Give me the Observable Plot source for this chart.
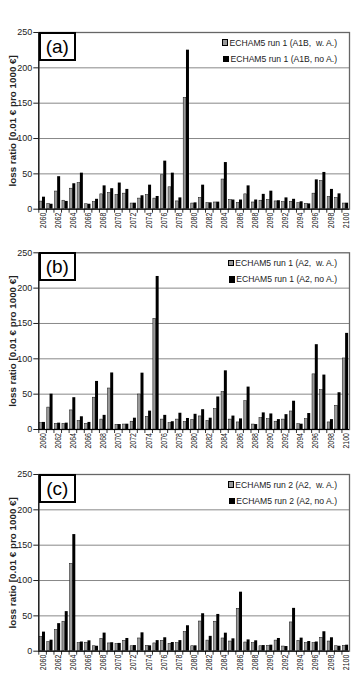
<!DOCTYPE html>
<html><head><meta charset="utf-8">
<script src="https://cdn.jsdelivr.net/npm/d3@7"></script>
<script src="https://cdn.jsdelivr.net/npm/@observablehq/plot@0.6"></script>
<style>
body{margin:0;background:#fff;font-family:"Liberation Sans",Arial,sans-serif;}
.panel{position:relative;width:354px;}
.panel svg{display:block;}
.tag{position:absolute;border:2px solid #000;box-sizing:border-box;background:#fff;font-size:19px;display:flex;align-items:center;justify-content:center;color:#000;line-height:1;}
.legend{position:absolute;font-size:8.6px;color:#222;}
.legend .row{display:flex;align-items:center;justify-content:flex-end;height:16.3px;white-space:pre;}
.sw{width:4.5px;height:4.5px;border:0.8px solid #000;margin-right:1.2px;}
</style></head><body><div id="chart"></div>
<script>
const years = [2060,2061,2062,2063,2064,2065,2066,2067,2068,2069,2070,2071,2072,2073,2074,2075,2076,2077,2078,2079,2080,2081,2082,2083,2084,2085,2086,2087,2088,2089,2090,2091,2092,2093,2094,2095,2096,2097,2098,2099,2100];
const labelYears = [2060,2062,2064,2066,2068,2070,2072,2074,2076,2078,2080,2082,2084,2086,2088,2090,2092,2094,2096,2098,2100];
const yTicks = [0,50,100,150,200,250];
const gridValues = [50,100,150,200];
const yLabel = "loss ratio [0.01 € pro 1000 €]";

const a_wA  = [10.8,7.5,25,12,29,37,7,10,21,23,20,22,8,15,20,15,48,31,11,157.5, 8,16,8.5,9.5,42,13,9,21,9.5,12,13,11,10,10.5,8.5,7.5,22,40,17.5,16,8];
const a_noA = [17,7,46,11,36,51,7,14,33,29,37,28,8.5,19,34,18,68,51,16,225, 9,34,9,10,66,13,13,33,13,21,25.5,12,16,14,10.5,7.5,41.5,52,28,21.7,8.5];
const b_wA  = [9,31,8,8,27,12,8,45,14,58,6.6,7,11,49.5,18,156.6,14,9,14,10.4, 13.5,18.5,12,29,53,14,10,40,7,16,14.6,11,14,25.5,7.5,14.6,78,55.6,10,33.5,100.5];
const b_noA = [10,50,9,9,45,18,10,68,20,80,7,7.5,16,79.7,26,216.5,20,11,23,15.6, 21.5,28,16,46,83,19,15,60,7,23.5,22,14,21,40,7.5,22.6,120,77,14,52,136];
const c_wA  = [20,13,30,41.7,123.6,11.4,12,7,17.5,11,10,14.7,7,18,7.6,11,14.7,10.4,11.4,27, 7,42,15,41.7,18,13.7,60,12.3,11.4,7,7.6,15,6.6,40.7,14.7,11.4,11.4,19,13.7,7,7.6];
const c_noA = [27,15.6,39,56,165,13,14.7,7,25.6,12,11,18,8,26,7.6,15,19,12.3,15,36, 7.6,53,21,52,25.5,17.5,83.5,16,14.7,8,8.5,18,6.6,60.6,18.5,13.7,13,27.5,19,7,8.5];

const legendA = ["ECHAM5 run 1 (A1B,  w. A.)", "ECHAM5 run 1 (A1B, no A.)"];
const legendB = ["ECHAM5 run 1 (A2,  w. A.)", "ECHAM5 run 1 (A2, no A.)"];
const legendC = ["ECHAM5 run 2 (A2,  w. A.)", "ECHAM5 run 2 (A2, no A.)"];
const tags = ["(a)", "(b)", "(c)"];

const GRAY = "#9a9a9a";
const panels = [
  {tag: tags[0], w: a_wA, n: a_noA, legend: legendA, height: 240, mt: 32, mb: 31.3},
  {tag: tags[1], w: b_wA, n: b_noA, legend: legendB, height: 225, mt: 12.3, mb: 36},
  {tag: tags[2], w: c_wA, n: c_noA, legend: legendC, height: 218, mt: 9, mb: 32.3}
];

const root = document.getElementById("chart");
const W = 354, mL = 38.3, mR = 5;
const step = (W - mL - mR) / years.length;

for (const p of panels) {
  const data = years.map((y, i) => ({year: y, w: p.w[i], n: p.n[i]}));
  const svg = Plot.plot({
    width: W, height: p.height,
    marginLeft: mL, marginRight: mR, marginTop: p.mt, marginBottom: p.mb,
    style: {fontFamily: "Liberation Sans, Arial, sans-serif", background: "#fff", color: "#222", fontSize: "9px"},
    x: {type: "band", domain: years, padding: 0, round: false, ticks: labelYears, tickRotate: -90, tickSize: 0, tickPadding: 3.5, tickFormat: d => String(d), label: null},
    y: {domain: [0, 250], ticks: yTicks, tickSize: 5, tickPadding: 1.5, label: null},
    marks: [
      Plot.ruleY(gridValues, {stroke: "#888", strokeWidth: 1}),
      Plot.frame({stroke: "#666", strokeWidth: 1.3}),
      Plot.barY(data, {x: "year", y: "w", fill: GRAY, stroke: "#111", strokeWidth: 0.5, insetLeft: 0.9, insetRight: step - 3.7}),
      Plot.barY(data, {x: "year", y: "n", fill: "#000", insetLeft: 3.7, insetRight: 0.9}),
      Plot.ruleY([0], {stroke: "#000", strokeWidth: 1}),
      Plot.ruleX([years[0]], {dx: -step / 2, stroke: "#000", strokeWidth: 1}),
      Plot.ruleX(years, {y1: 0, y2: 0, insetBottom: -4, dx: -step / 2, stroke: "#000", strokeWidth: 0.8}),
      Plot.text([yLabel], {frameAnchor: "left", textAnchor: "middle", rotate: -90, dx: -26, fontWeight: "bold", fontSize: 9.8, fill: "#222"})
    ]
  });
  svg.querySelectorAll('g[aria-label="x-axis tick label"] text').forEach(t => {
    const tr = t.getAttribute("transform") || "";
    t.setAttribute("transform", tr + " scale(0.76,1)");
    t.setAttribute("font-size", "9.2");
  });
  const div = document.createElement("div");
  div.className = "panel";
  div.style.height = p.height + "px";
  div.appendChild(svg);
  const tag = document.createElement("div");
  tag.className = "tag";
  tag.textContent = p.tag;
  Object.assign(tag.style, {left: (mL + 0.5) + "px", top: p.mt + "px", width: "37px", height: "28.5px"});
  div.appendChild(tag);
  const lg = document.createElement("div");
  lg.className = "legend";
  Object.assign(lg.style, {right: "17px", top: (p.mt + 2.6) + "px"});
  p.legend.forEach((txt, i) => {
    const row = document.createElement("div");
    row.className = "row";
    const sw = document.createElement("span");
    sw.className = "sw";
    sw.style.background = i === 0 ? GRAY : "#000";
    const s = document.createElement("span");
    s.textContent = txt;
    row.appendChild(sw); row.appendChild(s);
    lg.appendChild(row);
  });
  div.appendChild(lg);
  root.appendChild(div);
}
</script></body></html>
